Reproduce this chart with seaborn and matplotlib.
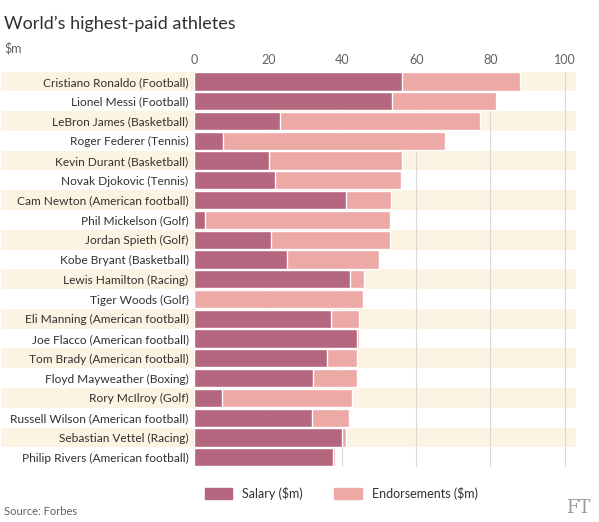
import numpy as np
import pandas as pd
import matplotlib.pyplot as plt
import seaborn as sns
from matplotlib.patches import Rectangle, Patch

athletes = ["Cristiano Ronaldo (Football)", "Lionel Messi (Football)", "LeBron James (Basketball)",
            "Roger Federer (Tennis)", "Kevin Durant (Basketball)", "Novak Djokovic (Tennis)",
            "Cam Newton (American football)", "Phil Mickelson (Golf)", "Jordan Spieth (Golf)",
            "Kobe Bryant (Basketball)", "Lewis Hamilton (Racing)", "Tiger Woods (Golf)",
            "Eli Manning (American football)", "Joe Flacco (American football)",
            "Tom Brady (American football)", "Floyd Mayweather (Boxing)", "Rory McIlroy (Golf)",
            "Russell Wilson (American football)", "Sebastian Vettel (Racing)",
            "Philip Rivers (American football)"]
salary = [56, 53.4, 23.2, 7.8, 20.1, 21.8, 41.1, 2.9, 20.8, 25, 42, 0.1, 37, 44, 36, 32, 7.6, 31.7, 40, 37.5]
endorsements = [32, 28, 54, 60, 36, 34, 12, 50, 32, 25, 4, 45.5, 7.5, 0.5, 8, 12, 35, 10, 1, 0.5]

df = pd.DataFrame({"athlete": athletes, "salary": salary, "endorsements": endorsements})
df["total"] = df["salary"] + df["endorsements"]

sal_col = "#b5677f"
end_col = "#eda9a6"
text_col = "#33302e"

sns.set_style("white")
plt.rcParams['font.family'] = ['Lato', 'DejaVu Sans']

fig = plt.figure(figsize=(5.99, 5.22), dpi=100)
ax = fig.add_axes([0.324, 0.105, 0.637, 0.758])

# alternating stripes spanning labels too
for i in range(len(athletes)):
    if i % 2 == 0:
        ax.add_patch(Rectangle((-52, i - 0.5), 155, 1, color="#fdf3e3", zorder=0,
                               clip_on=False, lw=0))

sns.barplot(data=df, y="athlete", x="total", color=end_col, width=0.92, ax=ax, zorder=3, saturation=1)
sns.barplot(data=df, y="athlete", x="salary", color=sal_col, width=0.92, ax=ax, zorder=4, saturation=1)

ax.set_xlim(0, 103)
ax.set_ylim(len(athletes) - 0.5, -0.5)
ax.set_xticks([0, 20, 40, 60, 80, 100])
ax.xaxis.tick_top()
ax.tick_params(axis="x", length=0, labelsize=9, colors="#66605c", pad=4)
ax.tick_params(axis="y", length=0, labelsize=8.6, colors=text_col, pad=4)
ax.grid(axis="x", color="#ddd8d3", lw=0.8, zorder=1)
ax.set_axisbelow(True)
ax.set_xlabel("")
ax.set_ylabel("")
for s in ax.spines.values():
    s.set_visible(False)

fig.text(0.007, 0.97, "World’s highest-paid athletes", fontsize=13, color=text_col, va="top")
fig.text(0.007, 0.92, "$m", fontsize=9, color="#66605c", va="top")
fig.text(0.007, 0.01, "Source: Forbes", fontsize=8, color="#66605c", va="bottom")
fig.text(0.985, 0.01, "FT", fontsize=13, color="#999", va="bottom", ha="right", family="DejaVu Serif")

handles = [Patch(color=sal_col, label="Salary ($m)"), Patch(color=end_col, label="Endorsements ($m)")]
fig.legend(handles=handles, loc="center", bbox_to_anchor=(0.57, 0.055), ncol=2, frameon=False,
           fontsize=9, handlelength=2.2, handleheight=0.9, columnspacing=2.5, labelcolor=text_col)

fig.savefig("out.png", dpi=100, facecolor="white")
